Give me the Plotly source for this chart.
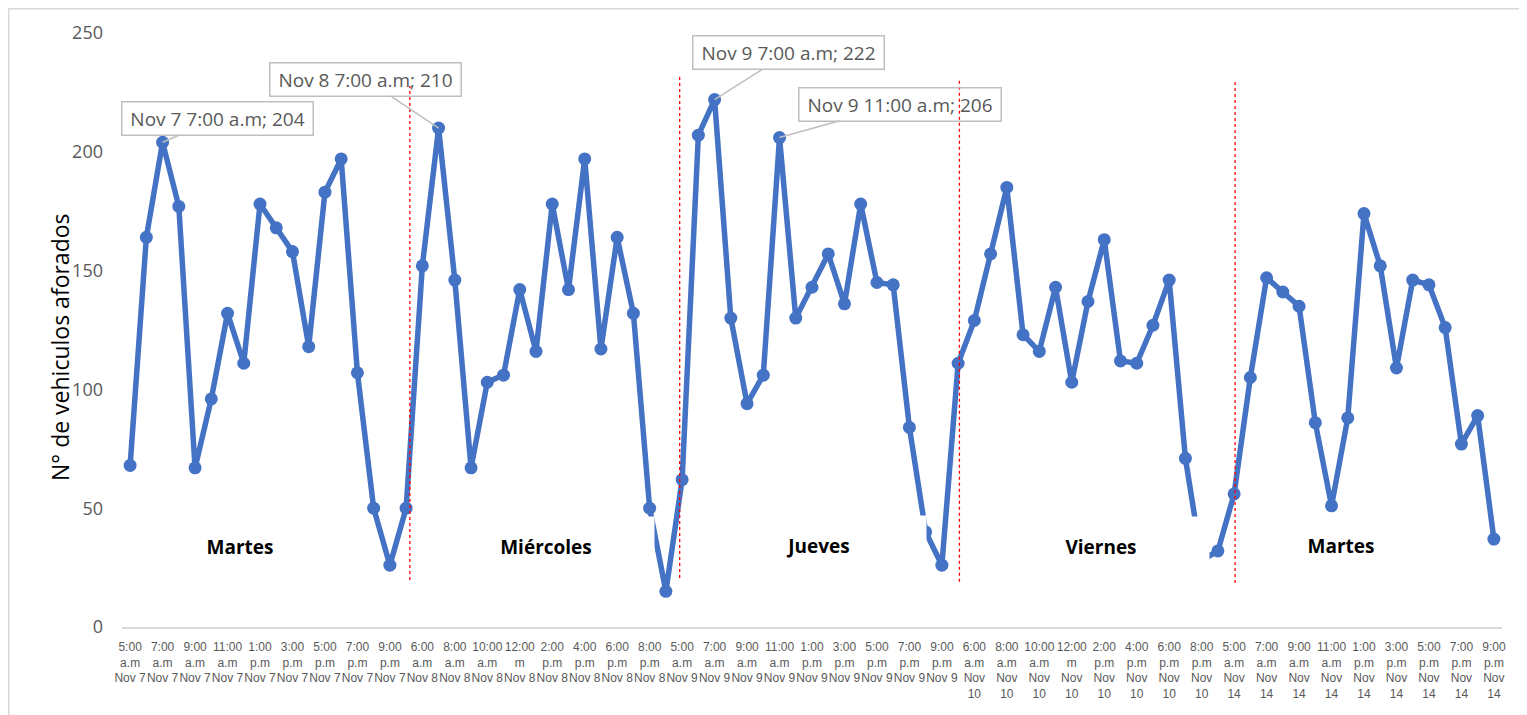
import plotly.graph_objects as go

# ---------------------------------------
# Data
# ---------------------------------------

hours = ["5:00 a.m", "6:00 a.m", "7:00 a.m", "8:00 a.m", "9:00 a.m", "10:00 a.m",
         "11:00 a.m", "12:00 m", "1:00 p.m", "2:00 p.m", "3:00 p.m", "4:00 p.m",
         "5:00 p.m", "6:00 p.m", "7:00 p.m", "8:00 p.m", "9:00 p.m"]

days = ["Nov 7", "Nov 8", "Nov 9", "Nov 10", "Nov 14"]
day_names = ["Martes", "Miércoles", "Jueves", "Viernes", "Martes"]

nov7 = [68, 164, 204, 177, 67, 96, 132, 111, 178, 168, 158, 118, 183, 197, 107, 50, 26]
nov8 = [50, 152, 210, 146, 67, 103, 106, 142, 116, 178, 142, 197, 117, 164, 132, 50, 15]
nov9 = [62, 207, 222, 130, 94, 106, 206, 130, 143, 157, 136, 178, 145, 144, 84, 40, 26]
nov10 = [111, 129, 157, 185, 123, 116, 143, 103, 137, 163, 112, 111, 127, 146, 71, 28, 32]
nov14 = [56, 105, 147, 141, 135, 86, 51, 88, 174, 152, 109, 146, 144, 126, 77, 89, 37]

# callouts: (day, hour)
callouts = [("Nov 7", "7:00 a.m"), ("Nov 8", "7:00 a.m"),
            ("Nov 9", "7:00 a.m"), ("Nov 9", "11:00 a.m")]

y_title = "N° de vehiculos aforados"

# ---------------------------------------
# Build series
# ---------------------------------------

series = [nov7, nov8, nov9, nov10, nov14]
categories = []
values = []
labels = []
for d, vals in zip(days, series):
    for h, v in zip(hours, vals):
        categories.append(f"{d} {h}")
        values.append(v)
        t, suf = h.split(" ")
        dtxt = d if len(d) <= 5 else d.replace(" ", "<br>")
        labels.append(f"{t}<br>{suf}<br>{dtxt}")

grey = "#595959"
OFF = 8  # page body margin
W, H = 1527 - OFF, 715 - OFF
L, R, T, B = 122 - OFF, 25, 33 - OFF, 88

fig = go.Figure()

fig.add_trace(
    go.Scatter(
        x=categories,
        y=values,
        mode="lines+markers",
        line=dict(color="#4472C4", width=5.5),
        marker=dict(color="#4472C4", size=13),
        showlegend=False,
        cliponaxis=False,
    )
)

# day separators
seps = [(17.23, 19.8, 227.7), (33.85, 20.6, 232), (51.08, 19, 230.6), (68.06, 18.5, 229.8)]
shapes = []
for xs, y0, y1 in seps:
    shapes.append(dict(type="line", xref="x", yref="y", x0=xs, x1=xs, y0=y0, y1=y1,
                       line=dict(color="#FF0000", width=1.3, dash="dot"), layer="above"))

# outer chart border (absolute page pixels -> paper)
pw, ph = 1380, 594
px0, py0 = 122, 627
shapes.append(dict(type="rect", xref="paper", yref="paper",
                   x0=(8.75 - px0) / pw, x1=(1521.5 - px0) / pw,
                   y0=(py0 - 716) / ph, y1=(py0 - 8.75) / ph,
                   line=dict(color="#d9d9d9", width=1.5), fillcolor="rgba(0,0,0,0)"))

annotations = []

# y axis title
annotations.append(dict(
    x=(42 - px0) / pw, y=(py0 - 347) / ph, xref="paper", yref="paper",
    text=y_title, textangle=-90, showarrow=False,
    font=dict(family="Open Sans", size=23, color="black"),
))

# day name boxes
day_pos = [(6.78, 33.5, True), (25.6, 33.5, True), (42.35, 34.3, True),
           (59.8, 33.5, True), (74.6, 34.3, False)]
for name, (xp, yp, opaque) in zip(day_names, day_pos):
    annotations.append(dict(
        x=xp, y=yp, xref="x", yref="y", text=f"<b>{name}</b>", showarrow=False,
        width=214, height=58, bgcolor="white" if opaque else "rgba(0,0,0,0)",
        font=dict(family="Open Sans", size=19, color="black"),
    ))

# peak callouts
offsets = [(55, -23.5, 190), (-73, -49, 190), (74, -47, 190), (120.5, -33.5, 201)]
for (d, h), (ax, ay, wd) in zip(callouts, offsets):
    key = f"{d} {h}"
    v = values[categories.index(key)]
    annotations.append(dict(
        x=key, y=v, xref="x", yref="y", text=f"{d} {h}; {v}",
        showarrow=True, arrowhead=0, arrowwidth=1.5, arrowcolor="#bfbfbf",
        ax=ax, ay=ay, width=wd, height=32, borderpad=0,
        bordercolor="#bfbfbf", borderwidth=1.5, bgcolor="rgba(0,0,0,0)",
        font=dict(family="Open Sans", size=19, color=grey),
    ))

fig.update_layout(
    width=W, height=H,
    margin=dict(l=L, r=R, t=T, b=B),
    paper_bgcolor="white", plot_bgcolor="white",
    shapes=shapes, annotations=annotations,
    xaxis=dict(
        type="category", range=[-0.5, 84.5],
        tickmode="array", tickvals=categories[::2], ticktext=labels[::2],
        tickangle=0, showgrid=False, zeroline=False,
        showline=True, linecolor="#d9d9d9", linewidth=1.5,
        ticks="", ticklabelstandoff=8,
        tickfont=dict(family="Liberation Sans", size=12, color=grey),
        automargin=False,
    ),
    yaxis=dict(
        range=[0, 250], tickvals=[0, 50, 100, 150, 200, 250],
        showgrid=False, zeroline=False, showline=False, ticks="",
        ticklabelstandoff=18,
        tickfont=dict(family="Open Sans", size=18, color=grey),
        automargin=False,
    ),
)

fig.write_html("out.html")
